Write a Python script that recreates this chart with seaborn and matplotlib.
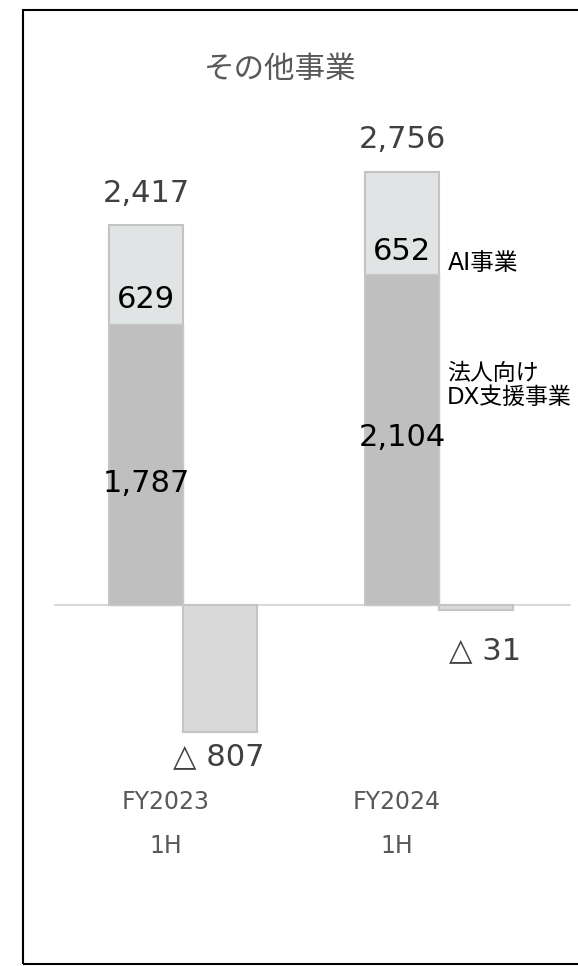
import matplotlib
matplotlib.use("Agg")
import matplotlib.pyplot as plt
import matplotlib.transforms as mtransforms
from matplotlib.patches import Rectangle
import seaborn as sns
import pandas as pd
import numpy as np

# ---------------- data ----------------
periods = ["FY2023\n1H", "FY2024\n1H"]
dx_sales = [1787, 2104]          # 法人向けDX支援事業
ai_sales = [629, 652]            # AI事業
total_sales = [2417, 2756]
segment_profit = [-807, -31]
title = "その他事業"
series_labels = ["AI事業", "法人向け\nDX支援事業"]

# ---------------- figure ----------------
W, H, DPI = 578, 966, 100
sns.set_theme(style="white")
plt.rcParams['font.family'] = ['DejaVu Sans', 'Noto Sans CJK JP']

fig = plt.figure(figsize=(W / DPI, H / DPI), dpi=DPI)
ax = fig.add_axes([0, 0, 1, 1])

hue_order = ["sales", "profit"]
df_top = pd.DataFrame({
    "period": periods * 2,
    "kind": ["sales"] * len(periods) + ["profit"] * len(periods),
    "value": total_sales + segment_profit,
})
df_bottom = pd.DataFrame({
    "period": periods,
    "kind": ["sales"] * len(periods),
    "value": dx_sales,
})

BW = 0.578
sns.barplot(data=df_top, x="period", y="value", hue="kind", hue_order=hue_order,
            order=periods, palette={"sales": "#e1e4e4", "profit": "#d9d9d9"},
            width=BW, dodge=True, saturation=1, errorbar=None, legend=False,
            edgecolor="#c4c4c4", linewidth=1.5, ax=ax, zorder=2)
sns.barplot(data=df_bottom, x="period", y="value", hue="kind", hue_order=hue_order,
            order=periods, palette={"sales": "#bfbfbf", "profit": "#bfbfbf"},
            width=BW, dodge=True, saturation=1, errorbar=None, legend=False,
            edgecolor="#c8c8c8", linewidth=1.0, ax=ax, zorder=3)

ax.set_xlim(-0.715, 1.543)
ax.set_ylim(-2296, 3849)
ax.axis("off")

ax.axhline(0, xmin=55 / W, xmax=570 / W, color="#d9d9d9", lw=1.5, zorder=1)

sales_bars = ax.containers[0]
blend = mtransforms.blended_transform_factory(ax.transData, ax.transAxes)

def fy(px):
    return 1 - px / H

# total labels
for bar, v in zip(sales_bars, total_sales):
    cx = bar.get_x() + bar.get_width() / 2
    ax.annotate(f"{v:,}", (cx, v), xytext=(0, 17), textcoords="offset points",
                ha="center", va="baseline", fontsize=22, color="#404040")

# inside labels
ai_y = [299, 252]
dx_y = [483, 437]
for i, bar in enumerate(sales_bars):
    cx = bar.get_x() + bar.get_width() / 2
    ax.text(cx, fy(ai_y[i]), f"{ai_sales[i]:,}", transform=blend,
            ha="center", va="center", fontsize=22, color="black", zorder=5)
    ax.text(cx, fy(dx_y[i]), f"{dx_sales[i]:,}", transform=blend,
            ha="center", va="center", fontsize=22, color="black", zorder=5)

# profit labels
prof_pos = [(219, 757), (485, 651)]
for (px, py), v in zip(prof_pos, segment_profit):
    ax.text(px / W, fy(py), f"△ {abs(v):,}", transform=ax.transAxes,
            ha="center", va="center", fontsize=22, color="#404040")

# series labels
ax.text(448 / W, fy(263), series_labels[0], transform=ax.transAxes,
        ha="left", va="center", fontsize=17, color="black")
for ln, py in zip(series_labels[1].split("\n"), [373, 397]):
    ax.text(447 / W, fy(py), ln, transform=ax.transAxes,
            ha="left", va="center", fontsize=16.5, color="black")

# category labels
cat_x = [166, 397]
for cx, p in zip(cat_x, periods):
    l1, l2 = p.split("\n")
    ax.text(cx / W, fy(802), l1, transform=ax.transAxes, ha="center", va="center",
            fontsize=17, color="#595959")
    ax.text(cx / W, fy(846), l2, transform=ax.transAxes, ha="center", va="center",
            fontsize=17, color="#595959")

# title
ax.text(280 / W, fy(69), title, transform=ax.transAxes, ha="center", va="center",
        fontsize=22, color="#595959")

# frame
fig.patches.append(Rectangle((23 / W, 1 - 964 / H), 1.5, (964 - 10) / H,
                             transform=fig.transFigure, fill=False,
                             edgecolor="black", linewidth=1.5))

fig.savefig("out.png", dpi=DPI)
